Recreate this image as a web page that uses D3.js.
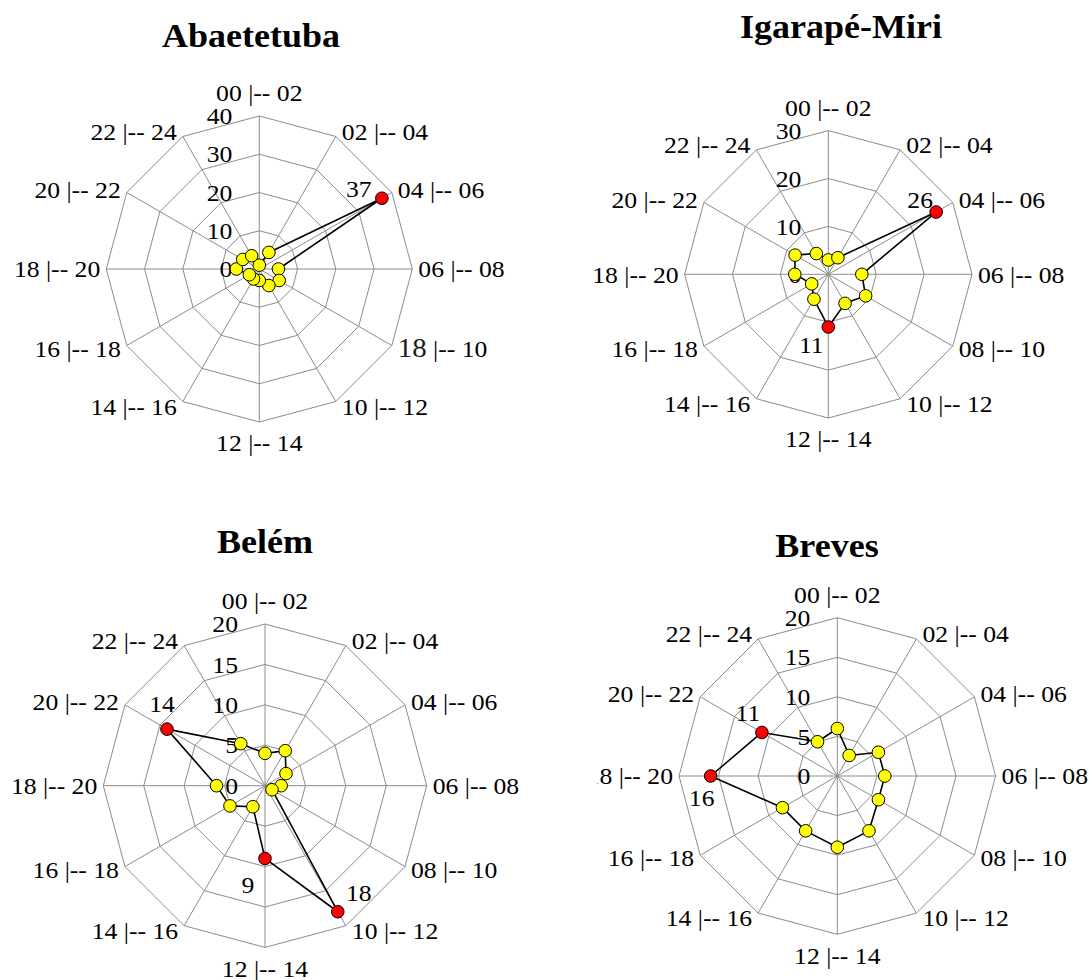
<!DOCTYPE html>
<html>
<head>
<meta charset="utf-8">
<script src="https://cdn.jsdelivr.net/npm/d3@7"></script>
<style>
  html, body { margin: 0; padding: 0; background: #fff; }
  svg { display: block; }
  svg text { font-family: "Liberation Serif", "Times New Roman", Times, serif; }
</style>
</head>
<body>
<svg id="chart"></svg>
<script>
// Two-hour intervals of the day, clockwise from the top spoke
const categories = ["00 |-- 02", "02 |-- 04", "04 |-- 06", "06 |-- 08", "08 |-- 10", "10 |-- 12",
                    "12 |-- 14", "14 |-- 16", "16 |-- 18", "18 |-- 20", "20 |-- 22", "22 |-- 24"];

// Values per interval for each municipality
const abaetetuba  = [1, 5, 37, 5, 6, 5, 3, 3, 3, 6, 5, 4];
const igarapeMiri = [3, 4, 26, 7, 9, 7, 11, 6, 4, 7, 8, 5];
const belem       = [4, 5, 3, 2, 1, 18, 9, 3, 5, 6, 14, 6];
const breves      = [6, 3, 6, 6, 6, 8, 9, 8, 8, 16, 11, 5];

// Intervals whose values are labelled (drawn as red points)
const abaetetubaPeaks  = [2];
const igarapeMiriPeaks = [2, 6];
const belemPeaks       = [5, 6, 10];
const brevesPeaks      = [9, 10];

// Radial axis ticks
const ticks40 = [0, 10, 20, 30, 40];
const ticks30 = [0, 10, 20, 30];
const ticks20 = [0, 5, 10, 15, 20];

const W = 1091, H = 980;
const SX = 1.07; // horizontal stretch of the serif lettering

// Panel geometry and label placement
const panels = [
  { title: "Abaetetuba", values: abaetetuba, peaks: abaetetubaPeaks, ticks: ticks40,
    cx: 259.3, cy: 269, R: 153, tx: 251, ty: 47,
    peakOffsets: { 2: [-23, -9] },
    override: { 4: ["18", " |-- 10"] } },
  { title: "Igarapé-Miri", values: igarapeMiri, peaks: igarapeMiriPeaks, ticks: ticks30,
    cx: 828.3, cy: 274.3, R: 143.7, tx: 841, ty: 38,
    peakOffsets: { 2: [-16, -12], 6: [-17, 18] } },
  { title: "Belém", values: belem, peaks: belemPeaks, ticks: ticks20,
    cx: 265, cy: 785.7, R: 161.7, tx: 265, ty: 553,
    peakOffsets: { 5: [21, -19], 6: [-17, 26], 10: [-5, -25] } },
  { title: "Breves", values: breves, peaks: brevesPeaks, ticks: ticks20,
    cx: 837.3, cy: 776, R: 158.3, tx: 827, ty: 557,
    peakOffsets: { 9: [-9, 22], 10: [-14, -20] },
    clip: [597, 480, 1091 - 597, 500] }
];

const svg = d3.select("#chart").attr("width", W).attr("height", H);
svg.append("rect").attr("width", W).attr("height", H).attr("fill", "#fff");
const defs = svg.append("defs");

// Text placed at (x, y) with a slight horizontal stretch
function stretchedText(g, x, y, str, size, anchor, weight, sx) {
  return g.append("text")
    .attr("transform", `translate(${x},${y}) scale(${sx || SX},1)`)
    .attr("text-anchor", anchor)
    .style("font-size", size + "px")
    .style("font-weight", weight || "normal")
    .attr("fill", "#000")
    .text(str);
}

const n = categories.length;
const angle = i => i * 2 * Math.PI / n;

panels.forEach((p, pi) => {
  let g = svg.append("g");
  if (p.clip) {
    defs.append("clipPath").attr("id", "clip" + pi)
      .append("rect").attr("x", p.clip[0]).attr("y", p.clip[1])
      .attr("width", p.clip[2]).attr("height", p.clip[3]);
    g.attr("clip-path", `url(#clip${pi})`);
  }

  const maxV = d3.max(p.ticks);
  const r = d3.scaleLinear().domain([0, maxV]).range([0, p.R]);
  const pt = (i, v) => [p.cx + r(v) * Math.sin(angle(i)), p.cy - r(v) * Math.cos(angle(i))];

  // Title
  stretchedText(g, p.tx, p.ty, p.title, 34, "middle", "bold", 1.06);

  // Grid rings
  const ring = d3.line().curve(d3.curveLinearClosed);
  g.append("g").selectAll("path")
    .data(p.ticks.filter(t => t > 0))
    .join("path")
    .attr("d", t => ring(d3.range(n).map(i => pt(i, t))))
    .attr("fill", "none")
    .attr("stroke", "#8c8c8c")
    .attr("stroke-width", 1);

  // Spokes
  g.append("g").selectAll("line")
    .data(d3.range(n))
    .join("line")
    .attr("x1", p.cx).attr("y1", p.cy)
    .attr("x2", i => pt(i, maxV)[0])
    .attr("y2", i => pt(i, maxV)[1])
    .attr("stroke", "#8c8c8c")
    .attr("stroke-width", 1);

  // Radial tick labels along the top spoke
  p.ticks.forEach(t => {
    stretchedText(g, p.cx - 27, p.cy - r(t) + 8.2, String(t), 24, "end");
  });

  // Interval labels around the outer ring
  categories.forEach((c, i) => {
    const a = angle(i);
    const dx = Math.sin(a), dy = -Math.cos(a);
    const [vx, vy] = pt(i, maxV);
    let x, yc, anchor;
    if (Math.abs(dx) < 0.01) {
      anchor = "middle"; x = vx; yc = vy + (dy < 0 ? -23 : 21);
    } else {
      anchor = dx > 0 ? "start" : "end"; x = vx + 6 * Math.sign(dx); yc = vy + dy * 6;
    }
    const t = stretchedText(g, x, yc + 8.2, "", 24, anchor);
    if (p.override && p.override[i]) {
      t.append("tspan").style("font-size", "27px").attr("fill", "#1a1a1a").text(p.override[i][0]);
      t.append("tspan").text(p.override[i][1]);
    } else {
      t.text(c);
    }
  });

  // Series polygon
  g.append("path")
    .attr("d", ring(p.values.map((v, i) => pt(i, v))))
    .attr("fill", "none")
    .attr("stroke", "#000")
    .attr("stroke-width", 1.6)
    .attr("stroke-linejoin", "round");

  // Points
  g.append("g").selectAll("circle")
    .data(p.values.map((v, i) => ({ v, i })))
    .join("circle")
    .attr("cx", d => pt(d.i, d.v)[0])
    .attr("cy", d => pt(d.i, d.v)[1])
    .attr("r", 6.3)
    .attr("fill", d => p.peaks.includes(d.i) ? "#ff0000" : "#ffff00")
    .attr("stroke", "#000")
    .attr("stroke-width", 1);

  // Value labels for the peak intervals
  p.peaks.forEach(i => {
    const [x, y] = pt(i, p.values[i]);
    const [ox, oy] = p.peakOffsets[i];
    stretchedText(g, x + ox, y + oy + 8.2, String(p.values[i]), 24, "middle");
  });
});
</script>
</body>
</html>
